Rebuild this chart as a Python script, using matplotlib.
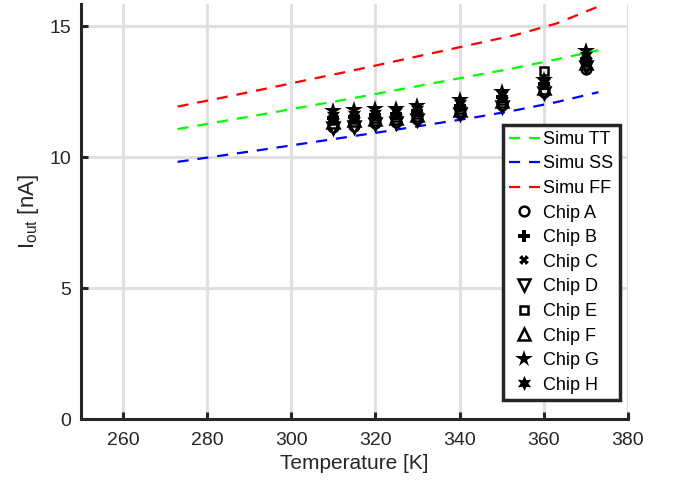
import matplotlib
matplotlib.use("Agg")
import matplotlib.pyplot as plt

plt.rcParams['font.family'] = ['Liberation Sans', 'DejaVu Sans']
plt.rcParams['mathtext.fontset'] = 'custom'
plt.rcParams['mathtext.rm'] = 'Liberation Sans'
plt.rcParams['mathtext.it'] = 'Liberation Sans'

# Simulation curves
sim_T = [273, 283, 293, 303, 313, 323, 333, 343, 353, 363, 373]
sim_TT = [11.07, 11.35, 11.63, 11.92, 12.20, 12.50, 12.80, 13.10, 13.40, 13.73, 14.08]
sim_SS = [9.82, 10.05, 10.28, 10.52, 10.76, 11.00, 11.25, 11.50, 11.78, 12.10, 12.48]
sim_FF = [11.93, 12.25, 12.58, 12.92, 13.25, 13.60, 13.95, 14.30, 14.65, 15.10, 15.75]

# Measured chips
chip_T = [310, 315, 320, 325, 330, 340, 350, 360, 370]
chip_A = [11.15, 11.20, 11.30, 11.35, 11.45, 11.70, 12.00, 12.50, 13.35]
chip_B = [11.50, 11.55, 11.60, 11.65, 11.75, 11.95, 12.30, 12.80, 13.75]
chip_C = [11.45, 11.50, 11.55, 11.60, 11.70, 11.90, 12.25, 12.75, 13.70]
chip_D = [11.10, 11.15, 11.25, 11.30, 11.40, 11.65, 11.90, 12.45, 13.45]
chip_E = [11.40, 11.45, 11.50, 11.55, 11.65, 11.85, 12.20, 13.30, 13.65]
chip_F = [11.35, 11.40, 11.45, 11.50, 11.60, 11.80, 12.15, 12.65, 13.60]
chip_G = [11.75, 11.80, 11.85, 11.85, 11.95, 12.20, 12.50, 12.95, 14.05]
chip_H = [11.60, 11.65, 11.70, 11.75, 11.85, 12.05, 12.40, 12.85, 13.90]

fig = plt.figure(figsize=(6.73, 4.84), dpi=100)
ax = fig.add_axes([0.120, 0.134, 0.813, 0.858])

dash = (0, (5, 4))
ax.plot(sim_T, sim_TT, color='#00ff00', lw=1.6, linestyle=dash, label='Simu TT')
ax.plot(sim_T, sim_SS, color='#0000ff', lw=1.6, linestyle=dash, label='Simu SS')
ax.plot(sim_T, sim_FF, color='#ff0000', lw=1.6, linestyle=dash, label='Simu FF')

kw = dict(linestyle='none', color='black')
ax.plot(chip_T, chip_A, marker='o', ms=7, mfc='none', mew=1.8, label='Chip A', **kw)
ax.plot(chip_T, chip_B, marker='P', ms=8, mfc='black', mew=0, label='Chip B', **kw)
ax.plot(chip_T, chip_C, marker='X', ms=7, mfc='black', mew=0, label='Chip C', **kw)
ax.plot(chip_T, chip_D, marker='v', ms=8, mfc='none', mew=1.8, label='Chip D', **kw)
ax.plot(chip_T, chip_E, marker='s', ms=6, mfc='none', mew=1.8, label='Chip E', **kw)
ax.plot(chip_T, chip_F, marker='^', ms=8, mfc='none', mew=1.8, label='Chip F', **kw)
ax.plot(chip_T, chip_G, marker='*', ms=13, mfc='black', mew=0, label='Chip G', **kw)
ax.plot(chip_T, chip_H, marker=(6, 1, 0), ms=11, mfc='black', mew=0, label='Chip H', **kw)

ax.set_xlim(250, 380)
ax.set_ylim(0, 15.85)
ax.set_xticks([260, 280, 300, 320, 340, 360, 380])
ax.set_yticks([0, 5, 10, 15])

ax.grid(True, color='#e0e0e0', lw=2.2)
ax.set_axisbelow(True)
for s in ['top', 'right']:
    ax.spines[s].set_visible(False)
for s in ['left', 'bottom']:
    ax.spines[s].set_linewidth(2.2)
    ax.spines[s].set_color('#262626')
ax.tick_params(direction='in', length=5, width=2.2, color='#262626',
               labelsize=14, labelcolor='#262626')
ax.tick_params(axis='x', pad=9)
ax.tick_params(axis='y', pad=7)

ax.set_xlabel('Temperature [K]', fontsize=15, color='#262626', labelpad=4)
ax.set_ylabel(r'I$_{\mathrm{out}}$ [nA]', fontsize=16, color='#262626', labelpad=6)

leg = ax.legend(loc='lower right', bbox_to_anchor=(0.985, 0.046), fontsize=13,
                frameon=True, fancybox=False, framealpha=1, edgecolor='#262626',
                labelspacing=0.42, handlelength=1.7, handletextpad=0.2,
                borderpad=0.35, borderaxespad=0)
leg.get_frame().set_linewidth(2.5)

fig.savefig('out.png', dpi=100)
